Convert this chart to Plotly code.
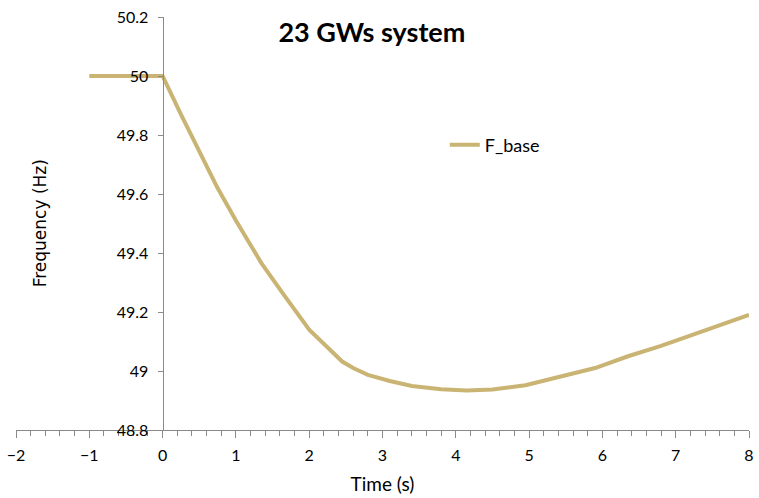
import plotly.graph_objects as go

# Frequency response of the 23 GW system after the disturbance at t = 0
time_s = [-1, 0, 0.25, 0.5, 0.75, 1.0, 1.35, 1.65, 2.0, 2.45, 2.6, 2.8, 3.1, 3.4, 3.8, 4.15,
          4.5, 4.95, 5.4, 5.9, 6.35, 6.8, 7.45, 8.0]
freq_hz = [50.0, 50.0, 49.87, 49.746, 49.62, 49.51, 49.365, 49.26, 49.14, 49.032, 49.01, 48.987,
           48.966, 48.949, 48.938, 48.934, 48.937, 48.952, 48.979, 49.01, 49.05, 49.085, 49.142, 49.19]

x_ticks = [-2, -1, 0, 1, 2, 3, 4, 5, 6, 7, 8]
y_ticks = [48.8, 49.0, 49.2, 49.4, 49.6, 49.8, 50.0, 50.2]
y_labels = ["48.8", "49", "49.2", "49.4", "49.6", "49.8", "50", "50.2"]

FONT = "Lato, 'Open Sans', sans-serif"
AXIS_GREY = "#8a8a8a"
LINE_COLOR = "#C9B474"

fig = go.Figure()
fig.add_trace(go.Scatter(
    x=time_s, y=freq_hz, mode="lines", name="F_base",
    line=dict(color=LINE_COLOR, width=4),
))

x_min, x_max = -2, 8
fig.update_layout(
    width=759, height=498,
    margin=dict(l=16, r=5, t=17, b=68),
    paper_bgcolor="white", plot_bgcolor="white",
    font=dict(family=FONT, size=15, color="black"),
    title=dict(text="<b>23 GWs system</b>", x=0.49, xanchor="center", y=0.935, yanchor="middle",
               font=dict(family=FONT, size=27, color="black")),
    showlegend=True,
    legend=dict(x=0.585, y=0.69, xanchor="left", yanchor="middle", bgcolor="rgba(0,0,0,0)",
                font=dict(family=FONT, size=18), itemwidth=30),
    xaxis=dict(
        range=[x_min, x_max], tickvals=x_ticks, ticks="outside", ticklen=7, tickcolor=AXIS_GREY,
        showline=True, linecolor=AXIS_GREY, linewidth=1, showgrid=False, zeroline=False,
        tickfont=dict(family=FONT, size=16), ticklabelstandoff=4,
        minor=dict(dtick=0.2, ticks="outside", ticklen=5, tickcolor=AXIS_GREY, showgrid=False),
        title=dict(text="Time (s)", font=dict(family=FONT, size=19), standoff=14),
    ),
    yaxis=dict(
        range=[48.8, 50.2], tickvals=y_ticks, ticktext=y_labels, ticks="outside", ticklen=5,
        tickcolor=AXIS_GREY, showline=True, linecolor=AXIS_GREY, linewidth=1,
        showgrid=False, zeroline=False, anchor="free",
        position=(0 - x_min) / (x_max - x_min),
        tickfont=dict(family=FONT, size=16), ticklabelstandoff=6,
    ),
    annotations=[dict(
        text="Frequency (Hz)", textangle=-90, xref="paper", yref="paper",
        x=0.0325, y=0.5, xanchor="center", yanchor="middle", showarrow=False,
        font=dict(family="'DejaVu Sans', sans-serif", size=17, color="black"),
    )],
)

fig.write_html("out.html")
